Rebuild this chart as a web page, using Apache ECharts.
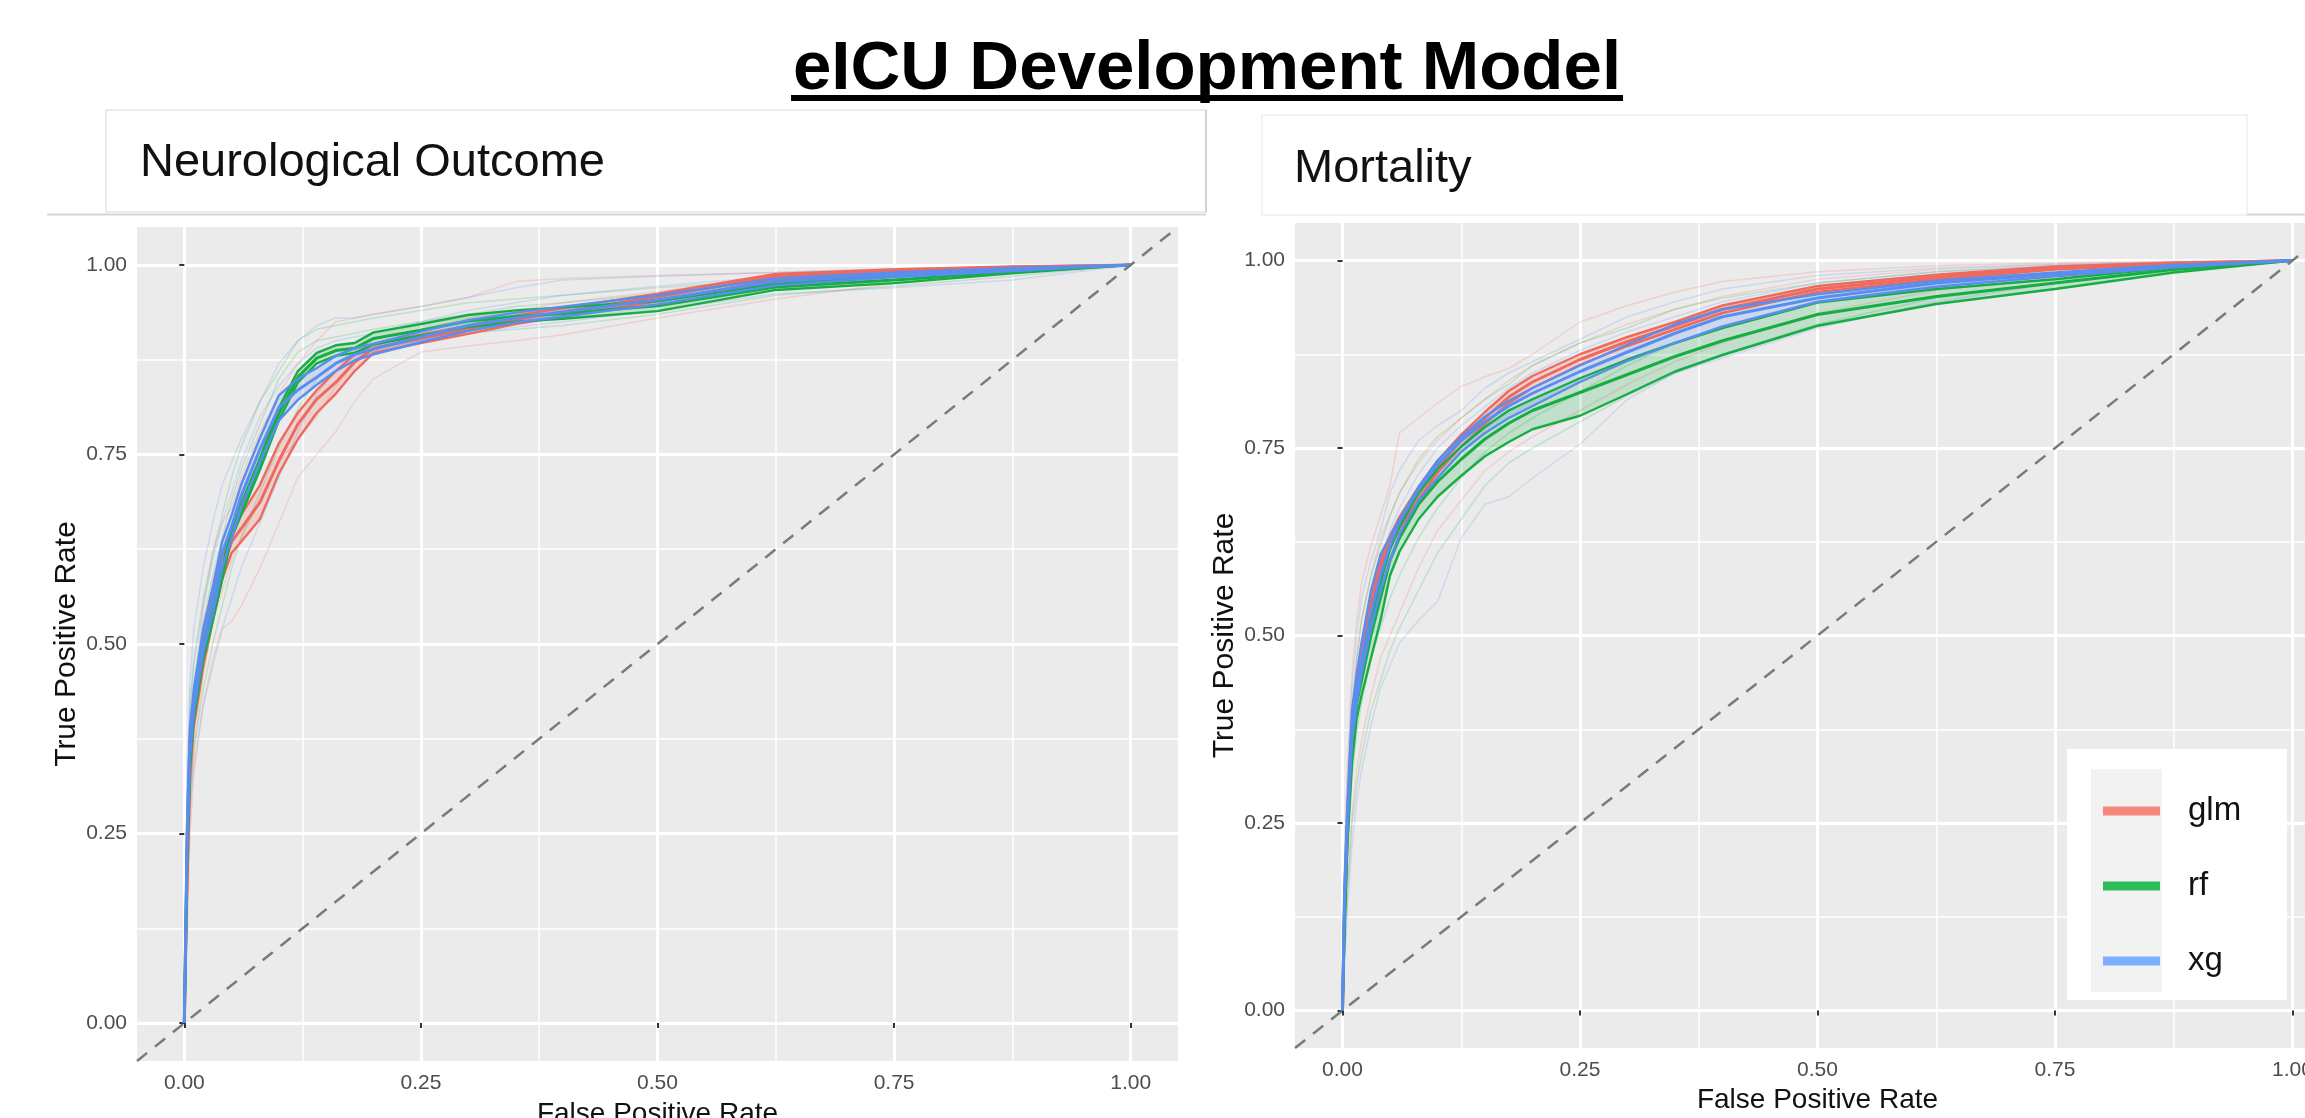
<!DOCTYPE html>
<html>
<head>
<meta charset="utf-8">
<title>eICU Development Model</title>
<script src="https://cdn.jsdelivr.net/npm/echarts@6/dist/echarts.min.js"></script>
<style>
  html, body { margin: 0; padding: 0; background: #fff; }
  #chart { width: 2305px; height: 1118px; }
</style>
</head>
<body>
<div id="chart"></div>
<script>
// ---- data: ROC curves ----
const modelNames = ['glm', 'rf', 'xg']
const majorTicks = [0, 0.25, 0.5, 0.75, 1]
const minorTicks = [0.125, 0.375, 0.625, 0.875]
const diagEnds = [-0.05, 1.05]

// Neurological Outcome
const fprNeuro = [0, 0.003, 0.006, 0.01, 0.02, 0.03, 0.04, 0.05, 0.06, 0.08, 0.10, 0.12, 0.14, 0.16, 0.18, 0.20, 0.25, 0.30, 0.35, 0.40, 0.50, 0.625, 0.75, 0.875, 1]
const glmNeuroLo  = [0, 0.18, 0.32, 0.39, 0.47, 0.53, 0.585, 0.62, 0.635, 0.665, 0.725, 0.77, 0.805, 0.83, 0.86, 0.884, 0.897, 0.909, 0.922, 0.932, 0.952, 0.981, 0.989, 0.995, 1]
const glmNeuroMid = [0, 0.20, 0.34, 0.41, 0.49, 0.55, 0.60, 0.635, 0.652, 0.687, 0.742, 0.79, 0.823, 0.845, 0.872, 0.890, 0.903, 0.915, 0.928, 0.938, 0.958, 0.985, 0.992, 0.997, 1]
const glmNeuroHi  = [0, 0.22, 0.36, 0.43, 0.51, 0.57, 0.615, 0.65, 0.67, 0.71, 0.765, 0.805, 0.835, 0.86, 0.882, 0.895, 0.908, 0.920, 0.933, 0.943, 0.962, 0.988, 0.994, 0.998, 1]
const rfNeuroLo   = [0, 0.22, 0.34, 0.40, 0.48, 0.53, 0.585, 0.64, 0.67, 0.73, 0.795, 0.845, 0.870, 0.880, 0.884, 0.895, 0.907, 0.918, 0.925, 0.929, 0.939, 0.967, 0.976, 0.989, 1]
const rfNeuroMid  = [0, 0.23, 0.35, 0.41, 0.49, 0.54, 0.59, 0.648, 0.678, 0.738, 0.804, 0.852, 0.877, 0.887, 0.890, 0.903, 0.914, 0.926, 0.932, 0.936, 0.946, 0.971, 0.980, 0.991, 1]
const rfNeuroHi   = [0, 0.24, 0.36, 0.42, 0.50, 0.55, 0.60, 0.655, 0.685, 0.745, 0.812, 0.860, 0.884, 0.894, 0.897, 0.911, 0.922, 0.934, 0.940, 0.944, 0.952, 0.975, 0.985, 0.993, 1]
const xgNeuroLo   = [0, 0.23, 0.35, 0.41, 0.49, 0.54, 0.60, 0.64, 0.68, 0.74, 0.795, 0.822, 0.842, 0.860, 0.874, 0.882, 0.898, 0.913, 0.924, 0.932, 0.948, 0.973, 0.984, 0.992, 1]
const xgNeuroMid  = [0, 0.25, 0.375, 0.425, 0.505, 0.557, 0.62, 0.655, 0.695, 0.757, 0.812, 0.835, 0.852, 0.870, 0.882, 0.889, 0.905, 0.920, 0.930, 0.938, 0.954, 0.978, 0.987, 0.994, 1]
const xgNeuroHi   = [0, 0.27, 0.39, 0.44, 0.52, 0.575, 0.635, 0.67, 0.71, 0.772, 0.828, 0.850, 0.864, 0.880, 0.890, 0.896, 0.912, 0.927, 0.937, 0.945, 0.960, 0.982, 0.990, 0.996, 1]
// single resamples (faint lines)
const glmNeuroFoldA = [0, 0.15, 0.30, 0.42, 0.55, 0.62, 0.66, 0.68, 0.72, 0.78, 0.83, 0.87, 0.90, 0.925, 0.93, 0.935, 0.945, 0.957, 0.978, 0.982, 0.986, 0.99, 0.995, 0.998, 1]
const glmNeuroFoldB = [0, 0.12, 0.25, 0.33, 0.42, 0.48, 0.52, 0.53, 0.55, 0.60, 0.66, 0.72, 0.75, 0.78, 0.82, 0.85, 0.885, 0.893, 0.90, 0.908, 0.93, 0.955, 0.975, 0.99, 1]
const glmNeuroFoldC = [0, 0.16, 0.28, 0.36, 0.46, 0.53, 0.57, 0.61, 0.64, 0.69, 0.74, 0.77, 0.80, 0.84, 0.87, 0.89, 0.915, 0.93, 0.94, 0.95, 0.965, 0.985, 0.993, 0.997, 1]
const rfNeuroFoldA  = [0, 0.30, 0.42, 0.48, 0.56, 0.62, 0.67, 0.72, 0.76, 0.82, 0.86, 0.90, 0.915, 0.92, 0.925, 0.93, 0.94, 0.95, 0.955, 0.96, 0.97, 0.98, 0.99, 0.995, 1]
const rfNeuroFoldB  = [0, 0.20, 0.30, 0.36, 0.44, 0.50, 0.55, 0.60, 0.64, 0.70, 0.76, 0.81, 0.85, 0.87, 0.88, 0.89, 0.90, 0.91, 0.915, 0.92, 0.935, 0.96, 0.972, 0.985, 1]
const rfNeuroFoldC  = [0, 0.26, 0.38, 0.45, 0.53, 0.59, 0.64, 0.69, 0.73, 0.79, 0.85, 0.885, 0.90, 0.905, 0.91, 0.915, 0.925, 0.935, 0.945, 0.95, 0.962, 0.975, 0.985, 0.993, 1]
const xgNeuroFoldA  = [0, 0.32, 0.45, 0.52, 0.60, 0.66, 0.71, 0.74, 0.77, 0.82, 0.87, 0.90, 0.92, 0.93, 0.93, 0.935, 0.945, 0.957, 0.97, 0.98, 0.985, 0.99, 0.995, 0.998, 1]
const xgNeuroFoldB  = [0, 0.18, 0.28, 0.34, 0.42, 0.47, 0.52, 0.56, 0.60, 0.66, 0.72, 0.78, 0.83, 0.86, 0.875, 0.885, 0.90, 0.91, 0.918, 0.925, 0.94, 0.962, 0.97, 0.98, 1]
const xgNeuroFoldC  = [0, 0.28, 0.41, 0.47, 0.55, 0.61, 0.66, 0.70, 0.74, 0.80, 0.84, 0.87, 0.89, 0.90, 0.905, 0.91, 0.925, 0.94, 0.95, 0.96, 0.972, 0.985, 0.992, 0.996, 1]

// Mortality
const fprMort = [0, 0.002, 0.005, 0.01, 0.015, 0.02, 0.03, 0.04, 0.05, 0.06, 0.08, 0.10, 0.125, 0.15, 0.175, 0.20, 0.25, 0.30, 0.35, 0.40, 0.50, 0.625, 0.75, 0.875, 1]
const glmMortLo  = [0, 0.12, 0.23, 0.36, 0.42, 0.46, 0.53, 0.58, 0.617, 0.642, 0.682, 0.717, 0.752, 0.782, 0.81, 0.83, 0.861, 0.886, 0.908, 0.93, 0.958, 0.975, 0.988, 0.995, 1]
const glmMortMid = [0, 0.13, 0.24, 0.37, 0.43, 0.47, 0.54, 0.59, 0.625, 0.65, 0.69, 0.725, 0.76, 0.79, 0.818, 0.838, 0.868, 0.892, 0.913, 0.935, 0.962, 0.978, 0.990, 0.996, 1]
const glmMortHi  = [0, 0.14, 0.25, 0.38, 0.44, 0.48, 0.55, 0.60, 0.633, 0.658, 0.698, 0.733, 0.768, 0.798, 0.826, 0.846, 0.875, 0.898, 0.918, 0.94, 0.966, 0.981, 0.992, 0.997, 1]
const rfMortLo   = [0, 0.10, 0.22, 0.33, 0.39, 0.42, 0.47, 0.52, 0.58, 0.612, 0.655, 0.685, 0.713, 0.739, 0.758, 0.775, 0.793, 0.822, 0.852, 0.874, 0.913, 0.942, 0.962, 0.984, 1]
const rfMortMid  = [0, 0.12, 0.23, 0.35, 0.41, 0.44, 0.50, 0.55, 0.60, 0.63, 0.675, 0.705, 0.735, 0.762, 0.783, 0.80, 0.824, 0.848, 0.872, 0.893, 0.928, 0.952, 0.970, 0.988, 1]
const rfMortHi   = [0, 0.13, 0.24, 0.36, 0.42, 0.455, 0.52, 0.57, 0.615, 0.645, 0.69, 0.722, 0.752, 0.778, 0.80, 0.815, 0.843, 0.868, 0.89, 0.91, 0.944, 0.962, 0.975, 0.991, 1]
const xgMortLo   = [0, 0.14, 0.24, 0.36, 0.41, 0.45, 0.51, 0.56, 0.60, 0.635, 0.68, 0.71, 0.745, 0.77, 0.79, 0.806, 0.838, 0.866, 0.89, 0.912, 0.945, 0.965, 0.979, 0.991, 1]
const xgMortMid  = [0, 0.15, 0.25, 0.38, 0.43, 0.465, 0.53, 0.58, 0.62, 0.652, 0.695, 0.728, 0.76, 0.785, 0.806, 0.823, 0.852, 0.878, 0.903, 0.925, 0.950, 0.970, 0.982, 0.993, 1]
const xgMortHi   = [0, 0.16, 0.27, 0.40, 0.45, 0.49, 0.56, 0.608, 0.632, 0.655, 0.698, 0.733, 0.765, 0.792, 0.813, 0.83, 0.86, 0.888, 0.915, 0.935, 0.955, 0.973, 0.984, 0.994, 1]
const glmMortFoldA = [0, 0.20, 0.32, 0.45, 0.52, 0.57, 0.62, 0.66, 0.70, 0.77, 0.79, 0.81, 0.832, 0.845, 0.856, 0.875, 0.918, 0.94, 0.958, 0.972, 0.985, 0.993, 0.997, 0.999, 1]
const glmMortFoldB = [0, 0.08, 0.16, 0.26, 0.32, 0.36, 0.42, 0.47, 0.50, 0.53, 0.59, 0.64, 0.68, 0.72, 0.745, 0.765, 0.80, 0.835, 0.865, 0.89, 0.93, 0.96, 0.978, 0.99, 1]
const glmMortFoldC = [0, 0.16, 0.27, 0.40, 0.47, 0.52, 0.58, 0.63, 0.66, 0.69, 0.73, 0.76, 0.79, 0.815, 0.84, 0.86, 0.89, 0.915, 0.935, 0.952, 0.975, 0.988, 0.995, 0.998, 1]
const rfMortFoldA  = [0, 0.15, 0.28, 0.40, 0.47, 0.52, 0.58, 0.62, 0.66, 0.69, 0.735, 0.765, 0.79, 0.815, 0.835, 0.86, 0.89, 0.91, 0.935, 0.95, 0.97, 0.985, 0.993, 0.998, 1]
const rfMortFoldB  = [0, 0.07, 0.15, 0.25, 0.30, 0.34, 0.40, 0.44, 0.48, 0.51, 0.56, 0.61, 0.655, 0.70, 0.73, 0.75, 0.785, 0.82, 0.85, 0.875, 0.915, 0.95, 0.97, 0.988, 1]
const rfMortFoldC  = [0, 0.10, 0.20, 0.31, 0.37, 0.41, 0.47, 0.51, 0.55, 0.58, 0.63, 0.67, 0.71, 0.745, 0.77, 0.79, 0.825, 0.86, 0.89, 0.91, 0.945, 0.968, 0.982, 0.993, 1]
const xgMortFoldA  = [0, 0.18, 0.30, 0.43, 0.50, 0.55, 0.60, 0.64, 0.69, 0.72, 0.76, 0.78, 0.80, 0.83, 0.85, 0.865, 0.895, 0.925, 0.945, 0.962, 0.98, 0.99, 0.995, 0.998, 1]
const xgMortFoldB  = [0, 0.06, 0.13, 0.22, 0.28, 0.32, 0.38, 0.43, 0.46, 0.49, 0.52, 0.545, 0.63, 0.675, 0.685, 0.71, 0.755, 0.815, 0.85, 0.87, 0.91, 0.945, 0.97, 0.988, 1]
const xgMortFoldC  = [0, 0.13, 0.24, 0.36, 0.43, 0.48, 0.55, 0.60, 0.64, 0.67, 0.715, 0.75, 0.78, 0.805, 0.83, 0.85, 0.88, 0.905, 0.925, 0.945, 0.97, 0.985, 0.993, 0.997, 1]

// ---- styling ----
const lineColors = { glm: '#EE6A5E', rf: '#17AD45', xg: '#5A8EEE' }
const keyColors = { glm: '#F5877F', rf: '#2DBE5A', xg: '#7AAEFF' }
const sans = '"Liberation Sans", Arial, sans-serif'

const panels = [
  {
    fpr: fprNeuro,
    grid: { left: 137, top: 227, width: 1041, height: 834 },
    labelMargin: 12, yNameGap: 43, xNameGap: 39,
    curves: {
      glm: { lo: glmNeuroLo, mid: glmNeuroMid, hi: glmNeuroHi, folds: [glmNeuroFoldA, glmNeuroFoldB, glmNeuroFoldC] },
      rf: { lo: rfNeuroLo, mid: rfNeuroMid, hi: rfNeuroHi, folds: [rfNeuroFoldA, rfNeuroFoldB, rfNeuroFoldC] },
      xg: { lo: xgNeuroLo, mid: xgNeuroMid, hi: xgNeuroHi, folds: [xgNeuroFoldA, xgNeuroFoldB, xgNeuroFoldC] }
    }
  },
  {
    fpr: fprMort,
    grid: { left: 1295, top: 223, width: 1045, height: 825 },
    labelMargin: 12, yNameGap: 42, xNameGap: 37,
    curves: {
      glm: { lo: glmMortLo, mid: glmMortMid, hi: glmMortHi, folds: [glmMortFoldA, glmMortFoldB, glmMortFoldC] },
      rf: { lo: rfMortLo, mid: rfMortMid, hi: rfMortHi, folds: [rfMortFoldA, rfMortFoldB, rfMortFoldC] },
      xg: { lo: xgMortLo, mid: xgMortMid, hi: xgMortHi, folds: [xgMortFoldA, xgMortFoldB, xgMortFoldC] }
    }
  }
]

function pairs(xs, ys) {
  return xs.map((x, i) => [x, ys[i]])
}

let grids = []
let xAxes = []
let yAxes = []
let series = []

panels.forEach((p, i) => {
  grids.push(Object.assign({ show: true, backgroundColor: '#EBEBEB', borderWidth: 0, containLabel: false, outerBoundsMode: 'none' }, p.grid))
  // main axes (major grid, ticks, labels)
  xAxes.push({
    gridIndex: i, type: 'value', min: -0.05, max: 1.05,
    axisLine: { show: false },
    axisTick: { show: true, length: 5, customValues: majorTicks, lineStyle: { color: '#333', width: 2 } },
    axisLabel: { customValues: majorTicks, formatter: v => v.toFixed(2), color: '#4D4D4D', fontSize: 21, fontFamily: sans, margin: p.labelMargin },
    splitLine: { show: true, lineStyle: { color: '#fff', width: 3 } },
    name: 'False Positive Rate', nameLocation: 'middle', nameGap: p.xNameGap,
    nameTextStyle: { fontSize: 28, fontFamily: sans, color: '#111' }
  })
  yAxes.push({
    gridIndex: i, type: 'value', min: -0.05, max: 1.05,
    axisLine: { show: false },
    axisTick: { show: true, length: 5, customValues: majorTicks, lineStyle: { color: '#333', width: 2 } },
    axisLabel: { customValues: majorTicks, formatter: v => v.toFixed(2), color: '#4D4D4D', fontSize: 21, fontFamily: sans, margin: 10 },
    splitLine: { show: true, lineStyle: { color: '#fff', width: 3 } },
    name: 'True Positive Rate', nameLocation: 'middle', nameGap: p.yNameGap, nameRotate: 90,
    nameTextStyle: { fontSize: 30, fontFamily: sans, color: '#111' }
  })
  // minor grid lines
  xAxes.push({
    gridIndex: i, type: 'value', min: -0.05, max: 1.05, position: 'bottom',
    axisLine: { show: false }, axisTick: { show: false, customValues: minorTicks },
    axisLabel: { show: false, customValues: minorTicks },
    splitLine: { show: true, lineStyle: { color: '#fff', width: 1.5 } }
  })
  yAxes.push({
    gridIndex: i, type: 'value', min: -0.05, max: 1.05, position: 'left',
    axisLine: { show: false }, axisTick: { show: false, customValues: minorTicks },
    axisLabel: { show: false, customValues: minorTicks },
    splitLine: { show: true, lineStyle: { color: '#fff', width: 1.5 } }
  })

  const ax = i * 2
  // faint single-resample curves
  modelNames.forEach(m => {
    p.curves[m].folds.forEach((f, k) => {
      series.push({
        name: m + '-fold' + k, type: 'line', xAxisIndex: ax, yAxisIndex: ax,
        data: pairs(p.fpr, f), showSymbol: false, symbol: 'none', silent: true, z: 2,
        lineStyle: { color: lineColors[m], width: 1.5, opacity: 0.2 }
      })
    })
  })
  // confidence ribbons
  modelNames.forEach(m => {
    const c = p.curves[m]
    series.push({
      name: m + '-band', type: 'custom', xAxisIndex: ax, yAxisIndex: ax, silent: true, z: 3,
      data: [[0, 0]],
      renderItem: (params, api) => {
        let pts = p.fpr.map((x, k) => api.coord([x, c.hi[k]]))
        for (let k = p.fpr.length - 1; k >= 0; k--) pts.push(api.coord([p.fpr[k], c.lo[k]]))
        return { type: 'polygon', shape: { points: pts }, style: { fill: lineColors[m], opacity: 0.2 } }
      }
    })
  })
  // mean curve plus band edges
  modelNames.forEach(m => {
    const c = p.curves[m]
    ;[['lo', 2.4], ['hi', 2.4], ['mid', 3]].forEach(([key, w]) => {
      series.push({
        name: key === 'mid' ? m : m + '-' + key, type: 'line', xAxisIndex: ax, yAxisIndex: ax,
        data: pairs(p.fpr, c[key]), showSymbol: false, symbol: 'none', silent: true, z: 4,
        itemStyle: { color: keyColors[m] },
        lineStyle: { color: lineColors[m], width: w }
      })
    })
  })
  // chance line
  series.push({
    name: 'chance', type: 'line', xAxisIndex: ax, yAxisIndex: ax, z: 5, silent: true,
    data: diagEnds.map(v => [v, v]), showSymbol: false, symbol: 'none',
    lineStyle: { color: '#7a7a7a', width: 2.5, type: [13, 10] }
  })
})

const chart = echarts.init(document.getElementById('chart'))
chart.setOption({
  animation: false,
  backgroundColor: '#fff',
  grid: grids,
  xAxis: xAxes,
  yAxis: yAxes,
  series: series,
  legend: {
    data: modelNames.map(m => ({ name: m, icon: 'rect', itemStyle: { color: keyColors[m] } })),
    orient: 'vertical', left: 2098, top: 786, z: 20,
    itemWidth: 57, itemHeight: 9, itemGap: 35, selectedMode: false,
    textStyle: { fontSize: 33, fontFamily: sans, color: '#111', lineHeight: 40, padding: [0, 0, 0, 23] }
  },
  graphic: [
    // main title
    { type: 'text', x: 1207, y: 70, style: { text: 'eICU Development Model', fontSize: 69, fontWeight: 'bold', fontFamily: sans, fill: '#000', align: 'center', verticalAlign: 'middle' } },
    { type: 'rect', shape: { x: 791, y: 95, width: 832, height: 6 }, style: { fill: '#000' } },
    // panel headers
    { type: 'rect', shape: { x: 106, y: 110, width: 1100, height: 102 }, style: { fill: '#fff', stroke: '#e6e6e6', lineWidth: 1.5 } },
    { type: 'line', shape: { x1: 1206, y1: 110, x2: 1206, y2: 212 }, style: { stroke: '#c8c8c8', lineWidth: 1.5 } },
    { type: 'line', shape: { x1: 47, y1: 214.5, x2: 1206, y2: 214.5 }, style: { stroke: '#d6d6d6', lineWidth: 2 } },
    { type: 'text', x: 140, y: 163, style: { text: 'Neurological Outcome', fontSize: 47, fontFamily: sans, fill: '#111', verticalAlign: 'middle' } },
    { type: 'rect', shape: { x: 1262, y: 115, width: 985, height: 100 }, style: { fill: '#fff', stroke: '#f0f0f0', lineWidth: 1.5 } },
    { type: 'line', shape: { x1: 2247, y1: 214.5, x2: 2305, y2: 214.5 }, style: { stroke: '#d6d6d6', lineWidth: 2 } },
    { type: 'text', x: 1294, y: 169, style: { text: 'Mortality', fontSize: 47, fontFamily: sans, fill: '#111', verticalAlign: 'middle' } },
    // legend box
    { type: 'rect', z: 15, shape: { x: 2067, y: 749, width: 220, height: 251 }, style: { fill: '#fff' } },
    { type: 'rect', z: 16, shape: { x: 2091, y: 769, width: 71, height: 223 }, style: { fill: '#F2F2F2' } }
  ]
})
</script>
</body>
</html>
